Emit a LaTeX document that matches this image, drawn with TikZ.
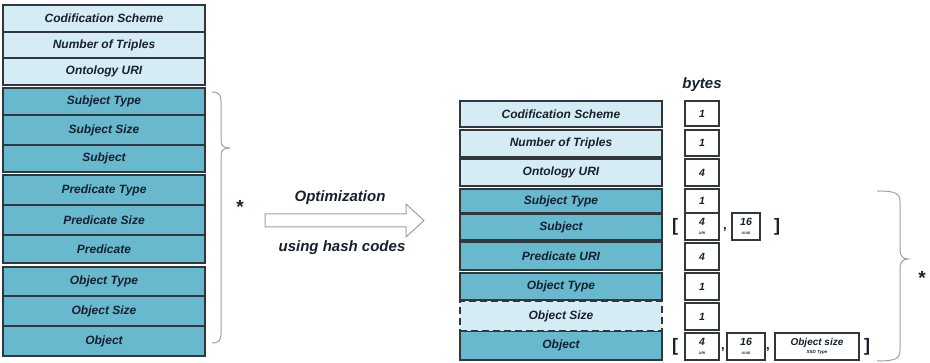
\documentclass[tikz,border=0pt]{standalone}
\usepackage{fontspec}
\setmainfont{Liberation Sans}
\definecolor{lightb}{RGB}{214,236,244}
\definecolor{darkb}{RGB}{104,184,206}
\definecolor{bord}{RGB}{50,55,60}
\definecolor{txt}{RGB}{22,32,46}
\definecolor{braceg}{RGB}{160,160,160}
\begin{document}
\begin{tikzpicture}[x=1pt,y=-1pt,
  lrow/.style={draw=bord, line width=1.3pt, minimum width=202pt, inner sep=0pt, text=txt,
    font=\fontsize{12}{14}\selectfont\bfseries\itshape},
  light/.style={lrow, fill=lightb},
  dark/.style={lrow, fill=darkb},
  bbox/.style={draw=bord, line width=1.2pt, fill=white, inner sep=0pt, minimum width=34pt,
    text=txt, align=center, font=\fontsize{10.5}{11}\selectfont\bfseries\itshape},
  lbl/.style={text=txt, font=\fontsize{15}{17}\selectfont\bfseries\itshape},
  brk/.style={text=txt, font=\fontsize{18}{19}\selectfont\bfseries},
  comma/.style={text=txt, font=\fontsize{13}{14}\selectfont\bfseries},
  star/.style={text=txt, font=\fontsize{19}{19}\selectfont\bfseries},
  bracepath/.style={draw=braceg, line width=1pt},
]
\useasboundingbox (0,0) rectangle (930,363);

% ---------- left column ----------
\node[light, minimum height=27pt] (l1) at (104,18.5) {Codification Scheme};
\node[light, minimum height=26pt] (l2) at (104,45) {Number of Triples};
\node[light, minimum height=27pt] (l3) at (104,71.5) {Ontology URI};
\node[dark, minimum height=27pt] (l4) at (104,101.5) {Subject Type};
\node[dark, minimum height=30pt] (l5) at (104,130) {Subject Size};
\node[dark, minimum height=27pt] (l6) at (104,158.5) {Subject};
\node[dark, minimum height=30pt] (l7) at (104,190) {Predicate Type};
\node[dark, minimum height=30pt] (l8) at (104,220) {Predicate Size};
\node[dark, minimum height=28pt] (l9) at (104,249) {Predicate};
\node[dark, minimum height=29pt] (l10) at (104,281.5) {Object Type};
\node[dark, minimum height=30pt] (l11) at (104,311) {Object Size};
\node[dark, minimum height=30pt] (l12) at (104,341) {Object};

% left brace
\draw[bracepath] (212,92) .. controls (219,92) and (221,95) .. (221,101)
  -- (221,141) .. controls (221,146) and (224,148) .. (230,148)
  .. controls (224,148) and (221,150) .. (221,155)
  -- (221,334) .. controls (221,340) and (219,343) .. (212,343);
\node[star] (lstar) at (240,207) {*};

% ---------- arrow ----------
\draw[draw=braceg, line width=1pt, fill=white]
  (265,214) -- (406,214) -- (406,204) -- (424,220.5) -- (406,237) -- (406,227) -- (265,227) -- cycle;
\node[lbl] (opt) at (340,198) {Optimization};
\node[lbl] (hash) at (342,248) {using hash codes};

% ---------- right column ----------
\node[light, minimum height=26pt] (r1) at (561,114) {Codification Scheme};
\node[light, minimum height=27pt] (r2) at (561,143.5) {Number of Triples};
\node[light, minimum height=27pt] (r3) at (561,172.5) {Ontology URI};
\node[dark, minimum height=24pt] (r4) at (561,201) {Subject Type};
\node[dark, minimum height=26pt] (r5) at (561,227) {Subject};
\node[dark, minimum height=28pt] (r6) at (561,256) {Predicate URI};
\node[dark, minimum height=27pt] (r7) at (561,286.5) {Object Type};
\node[dark, minimum height=29pt] (r9) at (561,345.5) {Object};
\node[light, minimum height=30pt, dashed, dash pattern=on 7pt off 4pt, line width=1.5pt] (r8) at (561,316) {Object Size};

% bytes column
\node[lbl] (bytes) at (702,85) {bytes};
\node[bbox, minimum height=25pt] (b1) at (702,113.5) {1};
\node[bbox, minimum height=26pt] (b2) at (702,143) {1};
\node[bbox, minimum height=27pt] (b3) at (702,172.5) {4};
\node[bbox, minimum height=24pt] (b4) at (702,201) {1};
\node[bbox, minimum height=27pt] (b5) at (702,226.5) {4\\[-2.5pt]{\fontsize{3.5}{4}\selectfont URI}};
\node[bbox, minimum height=27pt] (b6) at (702,256.5) {4};
\node[bbox, minimum height=27pt] (b7) at (702,286.5) {1};
\node[bbox, minimum height=27pt] (b8) at (702,316.5) {1};
\node[bbox, minimum height=27pt] (b9) at (702,346.5) {4\\[-2.5pt]{\fontsize{3.5}{4}\selectfont URI}};

% subject row extras
\node[brk] (s1) at (675,227) {[};
\node[comma] (sc) at (725,230) {,};
\node[bbox, minimum width=28pt, minimum height=27pt] (s16) at (746,226.5) {16\\[-2.5pt]{\fontsize{3.5}{4}\selectfont UUID}};
\node[brk] (s2) at (777,227) {]};

% object row extras
\node[brk] (o1) at (675,347) {[};
\node[comma] (oc1) at (723,350) {,};
\node[bbox, minimum width=38pt, minimum height=27pt] (o16) at (746,346.5) {16\\[-2.5pt]{\fontsize{3.5}{4}\selectfont UUID}};
\node[comma] (oc2) at (768,350) {,};
\node[bbox, minimum width=84pt, minimum height=27pt, font=\fontsize{10}{10.5}\selectfont\bfseries\itshape] (osz) at (817,346.5) {Object size\\[-2pt]{\fontsize{4.5}{5}\selectfont XSD Type}};
\node[brk] (o2) at (867,347) {]};

% right brace
\draw[bracepath] (877,191) .. controls (895,191) and (900,193) .. (900,202)
  -- (900,250) .. controls (900,256) and (903,259) .. (908,259)
  .. controls (903,259) and (900,262) .. (900,268)
  -- (900,350) .. controls (900,359) and (895,361) .. (877,361);
\node[star] (rstar) at (922,278) {*};
\end{tikzpicture}
\end{document}
